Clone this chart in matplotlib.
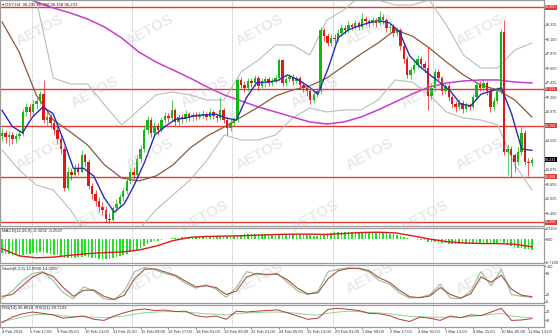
import numpy as np
import matplotlib
matplotlib.use('Agg')
import matplotlib.pyplot as plt
import matplotlib.transforms as mtransforms

plt.rcParams['font.family'] = ['Liberation Sans', 'DejaVu Sans']

# DXY H4 candles, 4 Feb - 11 Mar 2016
open_first = 96.60
close = [96.65, 96.58, 96.62, 96.55, 96.60, 96.63, 96.98, 97.05, 96.98, 97.10,
         97.15, 97.25, 96.85, 96.90, 96.80, 96.70, 96.55, 96.40, 95.80, 96.05,
         96.00, 96.10, 96.05, 96.30, 96.20, 95.82, 95.70, 95.60, 95.50, 95.45,
         95.32, 95.30, 95.48, 95.55, 95.65, 95.75, 95.90, 96.05, 96.00, 96.25,
         96.40, 96.70, 96.85, 96.65, 96.75, 96.70, 96.85, 96.92, 96.88, 97.00,
         96.82, 96.90, 96.86, 96.95, 96.90, 96.93, 96.90, 96.92, 96.95, 96.90,
         96.98, 96.92, 96.88, 97.00, 96.85, 96.72, 96.80, 96.85, 97.47, 97.40,
         97.35, 97.45, 97.42, 97.50, 97.38, 97.45, 97.48, 97.42, 97.46, 97.50,
         97.78, 97.42, 97.48, 97.52, 97.45, 97.50, 97.40, 97.35, 97.30, 97.16,
         97.25, 97.30, 98.25, 98.15, 98.05, 98.12, 98.10, 98.20, 98.28, 98.25,
         98.32, 98.30, 98.35, 98.30, 98.42, 98.38, 98.36, 98.40, 98.35, 98.45,
         98.40, 98.28, 98.30, 98.20, 98.25, 98.00, 97.80, 97.55, 97.62, 97.70,
         97.80, 97.72, 97.65, 97.22, 97.35, 97.60, 97.50, 97.30, 97.38, 97.20,
         97.10, 97.05, 97.12, 97.02, 97.08, 97.05, 97.20, 97.40, 97.35, 97.42,
         97.30, 97.05, 97.15, 97.30, 98.22, 96.35, 96.40, 96.30, 96.20, 96.35,
         96.65, 96.20, 96.18, 96.231]
high = [96.72, 96.70, 96.68, 96.66, 96.65, 96.70, 97.02, 97.12, 97.10, 97.16,
        97.20, 97.30, 97.47, 96.98, 96.95, 96.85, 96.75, 96.60, 96.45, 96.12,
        96.10, 96.16, 96.18, 96.38, 96.34, 96.24, 95.88, 95.76, 95.66, 95.58,
        95.52, 95.40, 95.52, 95.62, 95.70, 95.80, 95.96, 96.10, 96.12, 96.30,
        96.46, 96.75, 96.92, 96.90, 96.82, 96.80, 96.90, 96.98, 96.96, 97.16,
        97.04, 96.95, 96.94, 97.00, 96.98, 96.98, 96.97, 96.97, 97.00, 96.98,
        97.03, 97.00, 96.95, 97.20, 97.04, 96.90, 96.86, 96.90, 97.50, 97.52,
        97.45, 97.50, 97.50, 97.55, 97.54, 97.50, 97.53, 97.52, 97.50, 97.55,
        97.82, 97.80, 97.53, 97.56, 97.56, 97.54, 97.53, 97.44, 97.38, 97.34,
        97.30, 97.35, 98.30, 98.28, 98.20, 98.18, 98.18, 98.26, 98.34, 98.32,
        98.38, 98.36, 98.40, 98.38, 98.51, 98.46, 98.42, 98.45, 98.44, 98.55,
        98.50, 98.44, 98.36, 98.34, 98.30, 98.28, 98.04, 97.84, 97.68, 97.76,
        97.86, 97.84, 97.76, 97.98, 97.42, 97.66, 97.64, 97.54, 97.44, 97.42,
        97.24, 97.14, 97.18, 97.16, 97.13, 97.12, 97.26, 97.46, 97.45, 97.48,
        97.46, 97.34, 97.20, 97.36, 98.26, 98.40, 96.48, 96.45, 96.34, 96.45,
        96.75, 96.70, 96.26, 96.28]
low = [96.52, 96.50, 96.45, 96.48, 96.50, 96.56, 96.60, 96.92, 96.90, 96.95,
       97.02, 97.10, 96.80, 96.78, 96.72, 96.62, 96.48, 96.33, 95.75, 95.76,
       95.92, 95.96, 96.00, 96.02, 96.12, 95.78, 95.62, 95.52, 95.42, 95.38,
       95.27, 95.25, 95.28, 95.42, 95.50, 95.60, 95.70, 95.85, 95.94, 95.96,
       96.20, 96.36, 96.64, 96.58, 96.60, 96.62, 96.66, 96.80, 96.82, 96.84,
       96.76, 96.78, 96.80, 96.82, 96.84, 96.84, 96.85, 96.86, 96.88, 96.85,
       96.86, 96.87, 96.82, 96.85, 96.80, 96.62, 96.68, 96.76, 96.82, 97.34,
       97.28, 97.30, 97.36, 97.38, 97.32, 97.34, 97.37, 97.38, 97.38, 97.42,
       97.46, 97.38, 97.38, 97.44, 97.40, 97.42, 97.35, 97.28, 97.22, 97.10,
       97.12, 97.20, 97.26, 98.08, 98.00, 98.00, 98.04, 98.06, 98.15, 98.18,
       98.20, 98.24, 98.26, 98.24, 98.26, 98.32, 98.30, 98.32, 98.30, 98.32,
       98.34, 98.22, 98.22, 98.14, 98.15, 97.94, 97.74, 97.50, 97.48, 97.58,
       97.66, 97.66, 97.58, 97.00, 97.16, 97.30, 97.44, 97.24, 97.26, 97.14,
       97.04, 96.98, 97.00, 96.96, 96.98, 97.00, 97.02, 97.16, 97.30, 97.30,
       97.24, 96.98, 97.00, 97.10, 97.25, 96.30, 96.00, 95.96, 96.05, 96.15,
       96.30, 96.15, 95.98, 96.14]

# indicator lines, read at evenly spaced points along the bars
bb_upper = [99.334, 99.101, 98.713, 97.502, 97.409, 97.409, 97.083, 96.773, 97.006, 97.239,
            97.285, 97.239, 97.161, 97.161, 97.600, 97.782, 98.015, 98.015, 97.859, 98.400,
            98.558, 98.791, 98.713, 98.635, 98.635, 98.713, 98.325, 97.859, 97.658, 97.658,
            97.937, 98.046]
bb_lower = [96.385, 96.075, 95.842, 95.764, 95.454, 95.066, 94.833, 94.911, 95.143, 95.454,
            95.687, 95.919, 96.230, 96.618, 96.540, 96.540, 96.618, 96.882, 97.037, 96.975,
            97.006, 97.006, 97.161, 97.472, 97.440, 97.239, 96.975, 96.882, 96.851, 96.773,
            96.152, 95.764]
ma_brown = [98.372, 97.906, 97.239, 96.851, 96.664, 96.463, 96.152, 95.950, 95.904, 95.981,
            96.152, 96.416, 96.602, 96.742, 96.897, 97.052, 97.223, 97.316, 97.378, 97.502,
            97.689, 97.875, 98.046, 98.247, 98.154, 97.968, 97.751, 97.549, 97.394, 97.316,
            97.161, 96.897]
ma_magenta = [98.899, 98.791, 98.682, 98.589, 98.511, 98.418, 98.294, 98.123, 97.906, 97.751,
              97.627, 97.502, 97.363, 97.239, 97.146, 97.052, 96.975, 96.897, 96.820, 96.788,
              96.820, 96.897, 97.006, 97.130, 97.254, 97.363, 97.425, 97.456, 97.472, 97.472,
              97.440, 97.425]
ma_blue = [97.00, 96.75, 96.65, 96.90, 97.05, 96.95, 96.55, 96.10, 96.10, 95.98,
           95.65, 95.42, 95.55, 95.85, 96.20, 96.62, 96.75, 96.86, 96.88, 96.92,
           96.93, 96.94, 96.88, 96.85, 97.20, 97.43, 97.44, 97.46, 97.55, 97.48,
           97.38, 97.25, 97.65, 98.13, 98.25, 98.31, 98.36, 98.39, 98.36, 98.22,
           97.85, 97.68, 97.55, 97.43, 97.30, 97.10, 97.07, 97.25, 97.30, 97.35,
           96.95, 96.40, 96.38]

macd_main = [-0.42, -0.45, -0.47, -0.49, -0.50, -0.51, -0.49, -0.47, -0.46, -0.44,
             -0.42, -0.40, -0.42, -0.44, -0.46, -0.48, -0.50, -0.53, -0.58, -0.59,
             -0.59, -0.58, -0.57, -0.54, -0.53, -0.56, -0.58, -0.60, -0.61, -0.62,
             -0.62, -0.61, -0.58, -0.55, -0.52, -0.49, -0.45, -0.41, -0.38, -0.33,
             -0.27, -0.20, -0.14, -0.10, -0.07, -0.05, -0.03, -0.01, 0.01, 0.03,
             0.03, 0.04, 0.05, 0.06, 0.06, 0.07, 0.08, 0.08, 0.09, 0.09,
             0.10, 0.10, 0.10, 0.10, 0.09, 0.08, 0.08, 0.08, 0.11, 0.13,
             0.14, 0.15, 0.15, 0.16, 0.16, 0.16, 0.16, 0.16, 0.16, 0.16,
             0.17, 0.17, 0.16, 0.16, 0.16, 0.15, 0.15, 0.14, 0.13, 0.11,
             0.10, 0.10, 0.14, 0.17, 0.19, 0.20, 0.21, 0.22, 0.22, 0.23,
             0.23, 0.23, 0.23, 0.23, 0.23, 0.22, 0.22, 0.22, 0.21, 0.21,
             0.20, 0.19, 0.17, 0.15, 0.13, 0.10, 0.07, 0.03, 0.01, -0.01,
             -0.02, -0.03, -0.04, -0.08, -0.10, -0.10, -0.11, -0.12, -0.13, -0.14,
             -0.15, -0.15, -0.15, -0.16, -0.16, -0.16, -0.15, -0.14, -0.13, -0.12,
             -0.12, -0.13, -0.14, -0.13, -0.07, -0.12, -0.17, -0.21, -0.25, -0.27,
             -0.27, -0.30, -0.32, -0.33]
macd_signal = [-0.30, -0.52, -0.58, -0.56, -0.50, -0.45, -0.42, -0.40, -0.34, -0.22,
               -0.05, 0.05, 0.08, 0.09, 0.10, 0.12, 0.14, 0.15, 0.15, 0.14,
               0.17, 0.20, 0.21, 0.19, 0.10, 0.00, -0.08, -0.12, -0.14, -0.14,
               -0.16, -0.24]

stoch_main = [8, 30, 60, 80, 85, 60, 25, 8, 42, 30,
              8, 5, 30, 85, 97, 90, 80, 72, 52, 38,
              48, 35, 12, 40, 85, 78, 76, 80, 55, 30,
              20, 30, 85, 92, 96, 93, 85, 60, 50, 25,
              10, 12, 20, 50, 10, 8, 30, 85, 45, 92,
              20, 15, 12]
stoch_signal = [15, 20, 45, 70, 83, 72, 40, 15, 32, 33,
                15, 6, 18, 65, 92, 93, 84, 75, 58, 42,
                45, 40, 20, 30, 70, 80, 77, 78, 62, 38,
                22, 25, 65, 88, 94, 95, 88, 68, 55, 32,
                14, 11, 16, 40, 20, 10, 22, 70, 55, 75,
                35, 18, 14]
rsi_fast = [20, 45, 60, 68, 62, 55, 40, 45, 50, 35,
            30, 50, 65, 77, 82, 75, 77, 70, 72, 52,
            45, 50, 35, 72, 68, 72, 75, 78, 65, 50,
            35, 40, 80, 85, 80, 75, 62, 60, 52, 35,
            25, 45, 40, 30, 50, 42, 55, 52, 68, 85,
            30, 32, 38]
rsi_slow = [25, 35, 45, 55, 58, 56, 50, 48, 47, 44,
            42, 45, 50, 58, 65, 68, 70, 70, 68, 64,
            60, 58, 55, 60, 64, 66, 68, 68, 66, 62,
            56, 54, 62, 68, 72, 70, 66, 64, 60, 54,
            48, 47, 45, 44, 45, 44, 48, 52, 58, 62,
            50, 45, 42]

levels = [98.600, 97.332, 96.762, 95.968, 95.266]
price_ticks = [95.400, 95.625, 95.850, 96.075, 96.300, 96.525, 96.750, 96.975,
               97.200, 97.425, 97.650, 97.875, 98.100, 98.325, 98.550]
week_starts = [9, 38, 67, 96, 125]
date_labels = ['4 Feb 2016', '5 Feb 17:00', '9 Feb 05:00', '10 Feb 13:00', '11 Feb 21:00',
               '15 Feb 09:00', '16 Feb 17:00', '18 Feb 01:00', '19 Feb 09:00', '22 Feb 21:00',
               '24 Feb 05:00', '25 Feb 13:00', '29 Feb 01:00', '1 Mar 09:00', '2 Mar 17:00',
               '4 Mar 01:00', '7 Mar 13:00', '8 Mar 21:00', '10 Mar 05:00', '11 Mar 13:00']
header = 'DXY,H4  96.235 96.250 96.158 96.231'

# ---------------------------------------------------------------
n = len(close)
x = np.arange(n)
c = np.array(close)
o = np.r_[open_first, c[:-1]]
h = np.maximum(np.maximum(np.array(high), o), c)
l = np.minimum(np.minimum(np.array(low), o), c)
col = np.where(c >= o, '#12b812', '#e01818')
xs32 = np.linspace(0, n - 1, 32)
xs53 = np.linspace(0, n - 1, 53)

W, H = 560, 336
fig = plt.figure(figsize=(5.6, 3.36), dpi=100)
fig.patch.set_facecolor('white')


def panel(top, bottom):
    return fig.add_axes([0, 1 - bottom / H, 544 / W, (bottom - top) / H])


ax = panel(0, 226)
axm = panel(228, 263)
axs = panel(265, 303)
axr = panel(305, 327)
FS = 2.7

for a in (ax, axm, axs, axr):
    a.set_xlim(-0.6, 156.5)
    for s in a.spines.values():
        s.set_color('#9a9a9a')
        s.set_linewidth(0.9)
    a.yaxis.tick_right()
    a.tick_params(axis='y', labelsize=FS, length=1.2, pad=0.4, colors='#333333', width=0.4)
    a.tick_params(axis='x', length=0)
    a.set_xticks([])
    for w in week_starts:
        a.axvline(w - 0.5, color='#8a8a8a', lw=0.5, ls=(0, (1, 1.5)), zorder=0)

# main price panel
ax.plot(xs32, bb_upper, color='#b3c0bc', lw=0.8)
ax.plot(xs32, bb_lower, color='#b3c0bc', lw=0.8)
ax.plot(xs32, ma_magenta, color='#c83cd2', lw=1.1)
ax.plot(xs32, ma_brown, color='#8b5a3c', lw=0.9)
for lv in levels:
    ax.axhline(lv, color='#e53935', lw=1.0, zorder=1)
ax.vlines(x, l, h, colors=col, lw=0.5, zorder=3)
ax.bar(x, np.maximum(np.abs(c - o), 0.008), bottom=np.minimum(o, c), width=0.7,
       color=col, lw=0, zorder=3)
ax.plot(xs53, ma_blue, color='#2a2ab8', lw=1.0, zorder=4)
ax.set_ylim(95.205, 98.713)
# tick labels hidden behind the level / price boxes are left out
boxed = levels + [c[-1]]
shown = [p for p in price_ticks if min(abs(p - b) for b in boxed) > 0.07]
ax.set_yticks(shown)
ax.set_yticklabels([f'{p:.3f}' for p in shown])
trans = mtransforms.blended_transform_factory(ax.transAxes, ax.transData)
for lv in levels:
    ax.text(1.002, lv, f'{lv:.3f}', transform=trans, fontsize=FS, color='white',
            va='center', ha='left', clip_on=False, zorder=6,
            bbox=dict(boxstyle='square,pad=0.12', fc='#e53935', ec='none'))
ax.text(1.002, c[-1], f'{c[-1]:.3f}', transform=trans, fontsize=FS, color='white',
        va='center', ha='left', clip_on=False, zorder=6,
        bbox=dict(boxstyle='square,pad=0.12', fc='black', ec='none'))
ax.text(0.004, 0.99, '\u25be ' + header, transform=ax.transAxes, fontsize=FS + 0.4,
        va='top', ha='left', color='#222222')

# MACD
axm.bar(x, macd_main, width=0.45, color='#22e022', lw=0)
axm.plot(xs32, macd_signal, color='#e01818', lw=1.0)
axm.set_ylim(-0.74, 0.34)
axm.set_yticks([0.3109, 0.0, -0.7109])
axm.set_yticklabels(['0.3109', '0.00', '-0.7109'])
axm.text(0.004, 0.96, 'MACD(12,26,9) -0.3232 -0.2537', transform=axm.transAxes,
         fontsize=FS + 0.4, va='top', ha='left', color='#222222')

# Stochastic
axs.plot(xs53, stoch_main, color='#93c293', lw=0.8)
axs.plot(xs53, stoch_signal, color='#a85040', lw=0.8)
axs.set_ylim(-4, 104)
axs.set_yticks([100, 80, 20, 0])
axs.text(0.004, 0.96, 'Stoch(8,3,3) 12.9936 14.2605', transform=axs.transAxes,
         fontsize=FS + 0.4, va='top', ha='left', color='#222222')

# RSI
axr.plot(xs53, rsi_slow, color='#8fd48f', lw=0.7)
axr.plot(xs53, rsi_fast, color='#b03c3c', lw=0.7)
axr.set_ylim(0, 100)
axr.set_yticks([70, 30])
axr.text(0.004, 0.95, 'RSI(14) 36.8618  RSI(21) 38.7233', transform=axr.transAxes,
         fontsize=FS + 0.4, va='top', ha='left', color='#222222')
axr.set_xticks(np.arange(0, n, 8))
axr.set_xticklabels(date_labels)
axr.tick_params(axis='x', labelsize=FS + 0.3, length=1.5, pad=1, colors='#333333', width=0.4)
for t in axr.get_xticklabels():
    t.set_ha('left')

# AETOS watermark, kept inside the picture
for r in range(5):
    for k in range(5):
        px = 40 + k * 110 + (r % 2) * 55
        py = 30 + r * 62
        if px > 500:
            continue
        fig.text(px / W, 1 - py / H, 'AETOS', fontsize=11, fontweight='bold',
                 color='#b8b8b8', alpha=0.3, rotation=28, ha='center', va='center')

fig.savefig('out.png', dpi=100, facecolor='white')
